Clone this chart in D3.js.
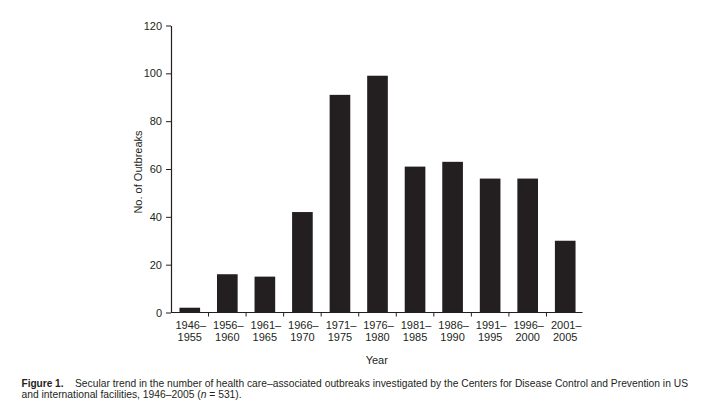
<!DOCTYPE html>
<html>
<head>
<meta charset="utf-8">
<script src="https://cdn.jsdelivr.net/npm/d3@7"></script>
<style>
  html, body { margin: 0; padding: 0; background: #fff; }
  svg { display: block; font-family: "Liberation Sans", Arial, Helvetica, sans-serif; }
</style>
</head>
<body>
<svg id="chart" width="702" height="409"></svg>
<script>
const periodStart = ["1946–", "1956–", "1961–", "1966–", "1971–", "1976–", "1981–", "1986–", "1991–", "1996–", "2001–"];
const periodEnd   = ["1955", "1960", "1965", "1970", "1975", "1980", "1985", "1990", "1995", "2000", "2005"];
const outbreaks   = [2, 16, 15, 42, 91, 99, 61, 63, 56, 56, 30];
const yTicks      = [0, 20, 40, 60, 80, 100, 120];
const yLabel = "No. of Outbreaks";
const xLabel = "Year";
const captionBold = "Figure 1.";
const captionLine1 = "Secular trend in the number of health care–associated outbreaks investigated by the Centers for Disease Control and Prevention in US";
const captionLine2a = "and international facilities, 1946–2005 (";
const captionLine2b = "n";
const captionLine2c = " = 531).";

const svg = d3.select("#chart");
const ink = "#231f20";

const x = d3.scaleBand()
  .domain(periodStart.map((d, i) => i))
  .range([171, 584])
  .paddingInner(0.45)
  .paddingOuter(0.225);

const y = d3.scaleLinear().domain([0, 120]).range([312.5, 25.5]);

// bars
svg.append("g").selectAll("rect")
  .data(outbreaks)
  .join("rect")
  .attr("x", (d, i) => x(i))
  .attr("width", x.bandwidth())
  .attr("y", d => y(d))
  .attr("height", d => y(0) - y(d))
  .attr("fill", ink);

// y axis
const yAxis = svg.append("g")
  .attr("transform", `translate(${x.range()[0]},0)`)
  .call(d3.axisLeft(y).tickValues(yTicks).tickSize(5).tickPadding(4).tickSizeOuter(0));
yAxis.select(".domain").attr("stroke", ink).attr("stroke-width", 1.2);
yAxis.selectAll(".tick line").attr("stroke", ink).attr("stroke-width", 1);
yAxis.selectAll(".tick text").attr("font-size", 11).attr("fill", ink)
  .attr("font-family", "Liberation Sans, Arial, sans-serif");

// x axis: line plus ticks at category boundaries
const xg = svg.append("g").attr("transform", `translate(0,${y(0)})`);
xg.append("line")
  .attr("x1", x.range()[0]).attr("x2", 582.5)
  .attr("stroke", ink).attr("stroke-width", 1.2);
const step = x.step();
const boundaries = periodStart.slice(1).map((d, i) => x(i + 1) - step * x.paddingInner() / 2);
xg.selectAll("line.bt").data(boundaries).join("line")
  .attr("class", "bt")
  .attr("x1", d => d).attr("x2", d => d)
  .attr("y1", 0).attr("y2", 4)
  .attr("stroke", ink).attr("stroke-width", 1);

const lbl = xg.selectAll("text.xl").data(periodStart).join("text")
  .attr("class", "xl")
  .attr("text-anchor", "middle")
  .attr("font-size", 11)
  .attr("fill", ink)
  .attr("x", (d, i) => x(i) + x.bandwidth() / 2);
lbl.append("tspan").attr("x", (d, i) => x(i) + x.bandwidth() / 2 + 1).attr("y", 16).text(d => d);
lbl.append("tspan").attr("x", (d, i) => x(i) + x.bandwidth() / 2).attr("y", 28).text((d, i) => periodEnd[i]);

// axis titles
svg.append("text")
  .attr("x", (x.range()[0] + 582.5) / 2)
  .attr("y", 352 + 12)
  .attr("text-anchor", "middle")
  .attr("font-size", 11)
  .attr("fill", ink)
  .text(xLabel);

svg.append("text")
  .attr("transform", `translate(142,172) rotate(-90)`)
  .attr("text-anchor", "middle")
  .attr("font-size", 11)
  .attr("fill", ink)
  .text(yLabel);

// caption
const cap = svg.append("g").attr("fill", ink).attr("font-size", 10.5);
cap.append("text").attr("x", 21.5).attr("y", 386.5)
  .attr("font-weight", "bold")
  .attr("textLength", 42).attr("lengthAdjust", "spacingAndGlyphs")
  .text(captionBold);
cap.append("text").attr("x", 75).attr("y", 386.5)
  .attr("textLength", 613).attr("lengthAdjust", "spacingAndGlyphs")
  .text(captionLine1);
const l2 = cap.append("text").attr("x", 21.5).attr("y", 397.5)
  .attr("font-size", 10.3);
l2.append("tspan").text(captionLine2a);
l2.append("tspan").attr("font-style", "italic").text(captionLine2b);
l2.append("tspan").text(captionLine2c);
</script>
</body>
</html>
